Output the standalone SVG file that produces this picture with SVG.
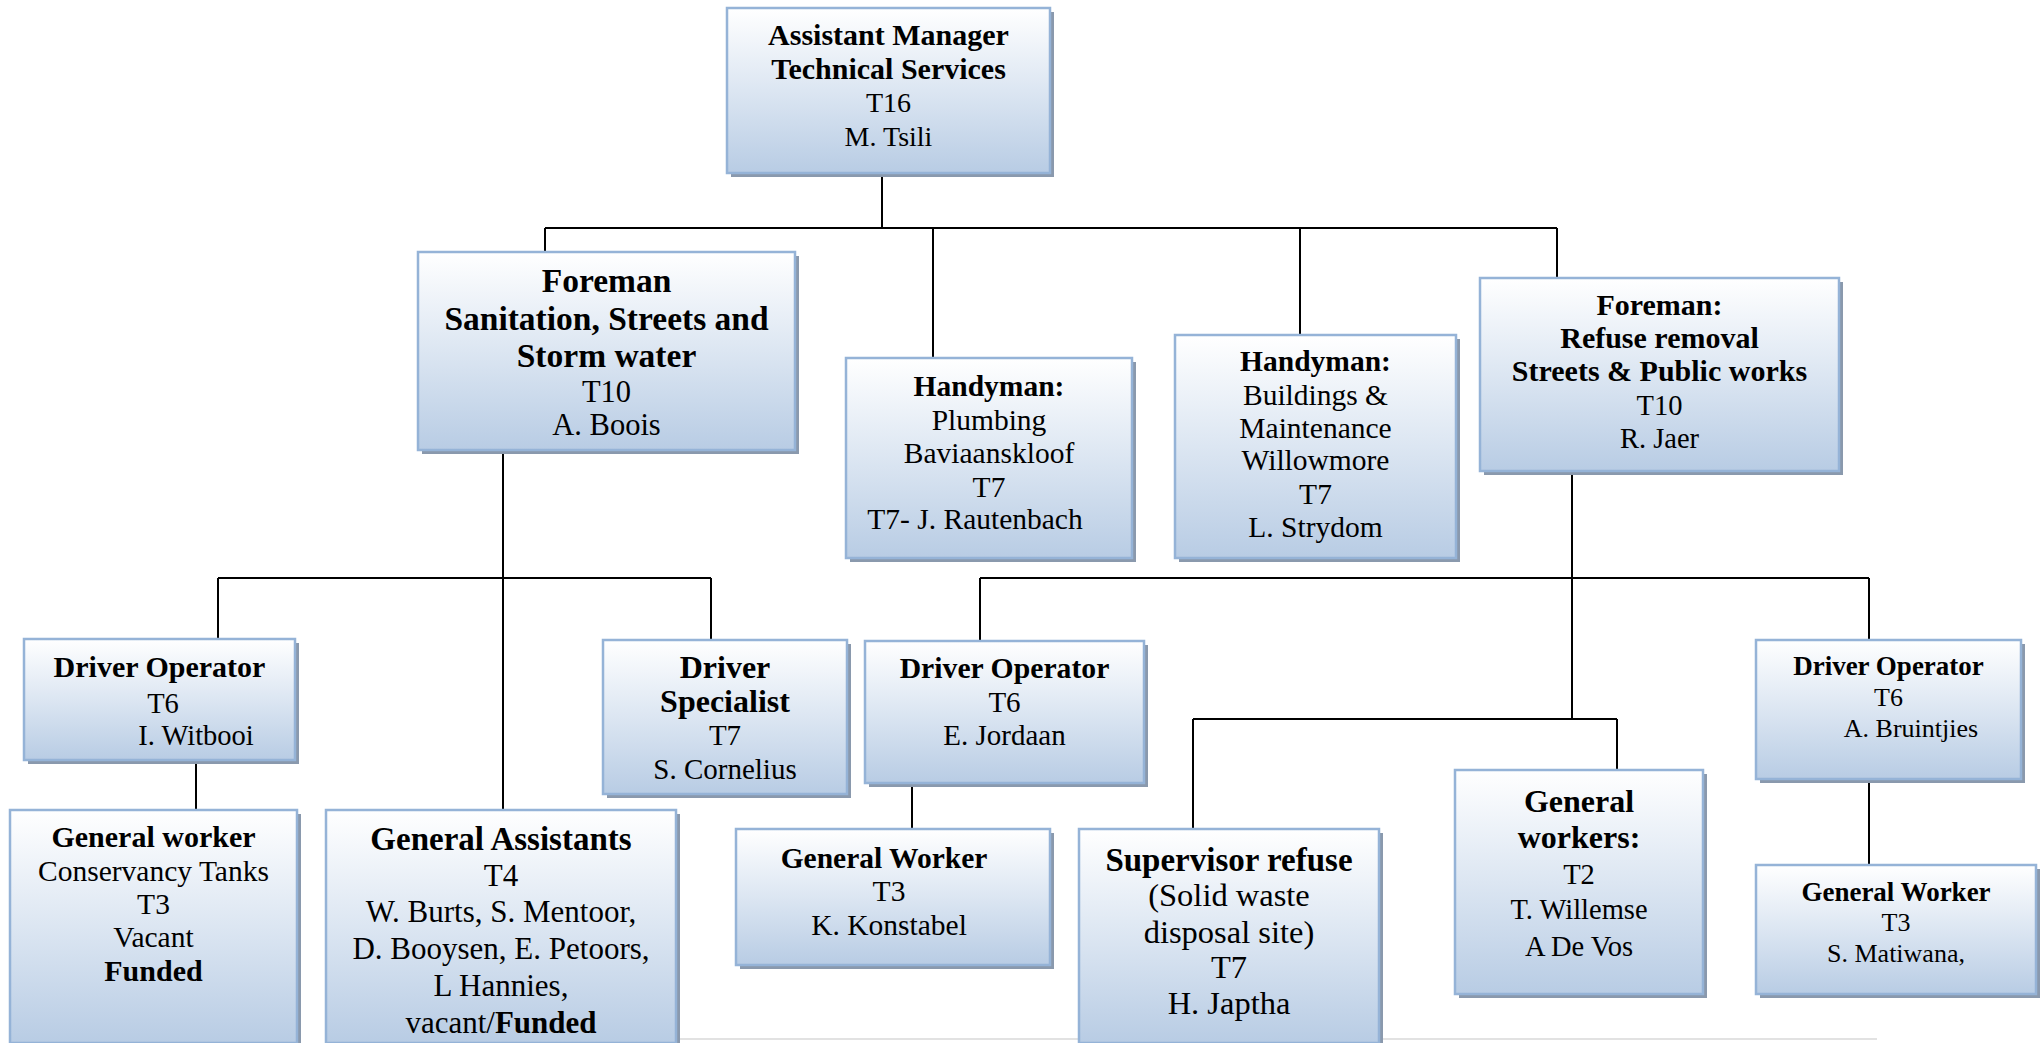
<svg xmlns="http://www.w3.org/2000/svg" width="2043" height="1043" viewBox="0 0 2043 1043">
  <defs>
    <linearGradient id="boxFill" x1="0" y1="0" x2="0" y2="1">
      <stop offset="0" stop-color="#ffffff"/>
      <stop offset="0.5" stop-color="#dce6f2"/>
      <stop offset="1" stop-color="#b8cce4"/>
    </linearGradient>
  </defs>
  <style>
    .sh { fill: #8a99ad; }
    .box { fill: url(#boxFill); stroke: #95b3d7; stroke-width: 2.5; }
    text { font-family: "Liberation Serif", "Times New Roman", serif; fill: #000; text-anchor: middle; }
    .b { font-weight: 700; }
    .conn line { stroke: #000; stroke-width: 2; fill: none; }
    .page { stroke: #d9d9d9; stroke-width: 1.5; }
  </style>

  <rect width="2043" height="1043" fill="#ffffff"/>

  <!-- page edge line near the bottom -->
  <line class="page" x1="676" y1="1039" x2="1877" y2="1039"/>

  <!-- connectors -->
  <g id="connectors" class="conn">
    <line x1="882" y1="173" x2="882" y2="228"/>
    <line x1="545" y1="228" x2="1557" y2="228"/>
    <line x1="545" y1="228" x2="545" y2="252"/>
    <line x1="933" y1="228" x2="933" y2="358"/>
    <line x1="1300" y1="228" x2="1300" y2="335"/>
    <line x1="1557" y1="228" x2="1557" y2="278"/>

    <line x1="503" y1="450" x2="503" y2="810"/>
    <line x1="218" y1="578" x2="711" y2="578"/>
    <line x1="218" y1="578" x2="218" y2="639"/>
    <line x1="711" y1="578" x2="711" y2="640"/>
    <line x1="196" y1="760" x2="196" y2="810"/>

    <line x1="1572" y1="471" x2="1572" y2="719"/>
    <line x1="980" y1="578" x2="1869" y2="578"/>
    <line x1="980" y1="578" x2="980" y2="641"/>
    <line x1="1869" y1="578" x2="1869" y2="640"/>
    <line x1="1193" y1="719" x2="1617" y2="719"/>
    <line x1="1193" y1="719" x2="1193" y2="829"/>
    <line x1="1617" y1="719" x2="1617" y2="770"/>
    <line x1="912" y1="783" x2="912" y2="829"/>
    <line x1="1869" y1="779" x2="1869" y2="865"/>
  </g>

  <!-- Assistant Manager -->
  <g id="n-asst-manager">
    <rect class="sh" x="731" y="12" width="323" height="165"/>
    <rect class="box" x="727" y="8" width="323" height="165"/>
    <text class="b" x="888.5" y="45" font-size="30">Assistant Manager</text>
    <text class="b" x="888.5" y="79" font-size="30">Technical Services</text>
    <text x="888.5" y="112" font-size="28">T16</text>
    <text x="888.5" y="146" font-size="28">M. Tsili</text>
  </g>

  <!-- Foreman sanitation -->
  <g id="n-foreman-sanitation">
    <rect class="sh" x="422" y="256" width="377" height="198"/>
    <rect class="box" x="418" y="252" width="377" height="198"/>
    <text class="b" x="606.5" y="292" font-size="33.5">Foreman</text>
    <text class="b" x="606.5" y="330" font-size="33.5">Sanitation, Streets and</text>
    <text class="b" x="606.5" y="367" font-size="33.5">Storm water</text>
    <text x="606.5" y="402" font-size="30.5">T10</text>
    <text x="606.5" y="435" font-size="30.5">A. Boois</text>
  </g>

  <!-- Handyman plumbing -->
  <g id="n-handyman-plumbing">
    <rect class="sh" x="850" y="362" width="286" height="200"/>
    <rect class="box" x="846" y="358" width="286" height="200"/>
    <text class="b" x="989" y="396" font-size="29.5">Handyman:</text>
    <text x="989" y="430" font-size="29.5">Plumbing</text>
    <text x="989" y="463" font-size="29.5">Baviaanskloof</text>
    <text x="989" y="497" font-size="29.5">T7</text>
    <text x="975" y="529" font-size="29.5">T7- J. Rautenbach</text>
  </g>

  <!-- Handyman buildings -->
  <g id="n-handyman-buildings">
    <rect class="sh" x="1179" y="339" width="281" height="223"/>
    <rect class="box" x="1175" y="335" width="281" height="223"/>
    <text class="b" x="1315.5" y="371" font-size="29.5">Handyman:</text>
    <text x="1315.5" y="405" font-size="29.5">Buildings &amp;</text>
    <text x="1315.5" y="438" font-size="29.5">Maintenance</text>
    <text x="1315.5" y="470" font-size="29.5">Willowmore</text>
    <text x="1315.5" y="504" font-size="29.5">T7</text>
    <text x="1315.5" y="537" font-size="29.5">L. Strydom</text>
  </g>

  <!-- Foreman refuse removal -->
  <g id="n-foreman-refuse">
    <rect class="sh" x="1484" y="282" width="359" height="193"/>
    <rect class="box" x="1480" y="278" width="359" height="193"/>
    <text class="b" x="1659.5" y="315" font-size="30">Foreman:</text>
    <text class="b" x="1659.5" y="348" font-size="30">Refuse removal</text>
    <text class="b" x="1659.5" y="381" font-size="30">Streets &amp; Public works</text>
    <text x="1659.5" y="415" font-size="28.5">T10</text>
    <text x="1659.5" y="448" font-size="28.5">R. Jaer</text>
  </g>

  <!-- Driver operator Witbooi -->
  <g id="n-driver-witbooi">
    <rect class="sh" x="28" y="643" width="271" height="121"/>
    <rect class="box" x="24" y="639" width="271" height="121"/>
    <text class="b" x="159.5" y="677" font-size="30">Driver Operator</text>
    <text x="163" y="713" font-size="28.5">T6</text>
    <text x="196" y="745" font-size="28.5">I. Witbooi</text>
  </g>

  <!-- Driver specialist -->
  <g id="n-driver-specialist">
    <rect class="sh" x="607" y="644" width="244" height="154"/>
    <rect class="box" x="603" y="640" width="244" height="154"/>
    <text class="b" x="725" y="678" font-size="32">Driver</text>
    <text class="b" x="725" y="712" font-size="32">Specialist</text>
    <text x="725" y="745" font-size="29">T7</text>
    <text x="725" y="779" font-size="29">S. Cornelius</text>
  </g>

  <!-- Driver operator Jordaan -->
  <g id="n-driver-jordaan">
    <rect class="sh" x="869" y="645" width="279" height="142"/>
    <rect class="box" x="865" y="641" width="279" height="142"/>
    <text class="b" x="1004.5" y="678" font-size="29.7">Driver Operator</text>
    <text x="1004.5" y="712" font-size="29">T6</text>
    <text x="1004.5" y="745" font-size="29">E. Jordaan</text>
  </g>

  <!-- Driver operator Bruintjies -->
  <g id="n-driver-bruintjies">
    <rect class="sh" x="1760" y="644" width="265" height="139"/>
    <rect class="box" x="1756" y="640" width="265" height="139"/>
    <text class="b" x="1888.5" y="675" font-size="27">Driver Operator</text>
    <text x="1888.5" y="706" font-size="26">T6</text>
    <text x="1911" y="737" font-size="26">A. Bruintjies</text>
  </g>

  <!-- General worker conservancy tanks -->
  <g id="n-general-worker-tanks">
    <rect class="sh" x="14" y="814" width="287" height="233"/>
    <rect class="box" x="10" y="810" width="287" height="233"/>
    <text class="b" x="153.5" y="847" font-size="30">General worker</text>
    <text x="153.5" y="881" font-size="29.5">Conservancy Tanks</text>
    <text x="153.5" y="914" font-size="29.5">T3</text>
    <text x="153.5" y="947" font-size="29.5">Vacant</text>
    <text class="b" x="153.5" y="981" font-size="30">Funded</text>
  </g>

  <!-- General assistants -->
  <g id="n-general-assistants">
    <rect class="sh" x="330" y="814" width="350" height="233"/>
    <rect class="box" x="326" y="810" width="350" height="233"/>
    <text class="b" x="501" y="850" font-size="33">General Assistants</text>
    <text x="501" y="886" font-size="31">T4</text>
    <text x="501" y="922" font-size="31">W. Burts, S. Mentoor,</text>
    <text x="501" y="959" font-size="31">D. Booysen, E. Petoors,</text>
    <text x="501" y="996" font-size="31">L Hannies,</text>
    <text x="501" y="1033" font-size="31">vacant/<tspan class="b">Funded</tspan></text>
  </g>

  <!-- General worker Konstabel -->
  <g id="n-general-worker-konstabel">
    <rect class="sh" x="740" y="833" width="314" height="136"/>
    <rect class="box" x="736" y="829" width="314" height="136"/>
    <text class="b" x="884" y="868" font-size="29.5">General Worker</text>
    <text x="889" y="901" font-size="29.5">T3</text>
    <text x="889" y="935" font-size="29.5">K. Konstabel</text>
  </g>

  <!-- Supervisor refuse -->
  <g id="n-supervisor-refuse">
    <rect class="sh" x="1083" y="833" width="300" height="214"/>
    <rect class="box" x="1079" y="829" width="300" height="214"/>
    <text class="b" x="1229" y="871" font-size="33">Supervisor refuse</text>
    <text x="1229" y="906" font-size="32.5">(Solid waste</text>
    <text x="1229" y="943" font-size="32.5">disposal site)</text>
    <text x="1229" y="978" font-size="32.5">T7</text>
    <text x="1229" y="1014" font-size="32.5">H. Japtha</text>
  </g>

  <!-- General workers Willemse / De Vos -->
  <g id="n-general-workers">
    <rect class="sh" x="1459" y="774" width="248" height="224"/>
    <rect class="box" x="1455" y="770" width="248" height="224"/>
    <text class="b" x="1579" y="812" font-size="32">General</text>
    <text class="b" x="1579" y="848" font-size="32">workers:</text>
    <text x="1579" y="884" font-size="28.5">T2</text>
    <text x="1579" y="919" font-size="28.5">T. Willemse</text>
    <text x="1579" y="956" font-size="28.5">A De Vos</text>
  </g>

  <!-- General worker Matiwana -->
  <g id="n-general-worker-matiwana">
    <rect class="sh" x="1760" y="869" width="280" height="129"/>
    <rect class="box" x="1756" y="865" width="280" height="129"/>
    <text class="b" x="1896" y="901" font-size="27">General Worker</text>
    <text x="1896" y="931" font-size="26">T3</text>
    <text x="1896" y="962" font-size="26">S. Matiwana,</text>
  </g>
</svg>
